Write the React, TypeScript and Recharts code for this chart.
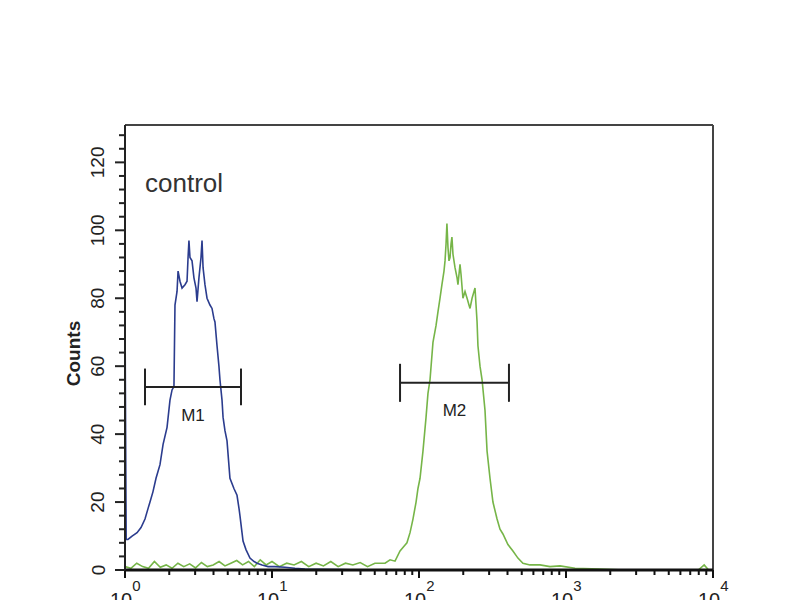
import React from 'react';
import { ComposedChart, Line, XAxis, YAxis, ReferenceLine, Scatter } from 'recharts';

// x values are log10 of fluorescence intensity (decades, 10^0 .. 10^4)
const blueX = [0, 0.008, 0.02, 0.048, 0.082, 0.109, 0.136, 0.156, 0.17, 0.19, 0.211, 0.238, 0.259, 0.286, 0.306, 0.32, 0.333, 0.34, 0.354, 0.361, 0.374, 0.388, 0.408, 0.422, 0.429, 0.435, 0.442, 0.456, 0.469, 0.483, 0.49, 0.503, 0.517, 0.524, 0.531, 0.544, 0.558, 0.578, 0.592, 0.605, 0.612, 0.626, 0.639, 0.646, 0.66, 0.667, 0.68, 0.694, 0.714, 0.741, 0.762, 0.776, 0.782, 0.796, 0.803, 0.823, 0.85, 0.878, 0.898, 0.932, 0.973, 1.02, 1.088, 1.156, 1.224, 1.327, 1.463, 1.6, 2.5, 4.0];
const blueCounts = [76, 9, 9, 10, 11, 12.5, 15, 18, 20, 23, 27, 31, 37, 42, 50, 53, 54, 78, 82, 88, 85, 83, 84, 85, 92, 97, 92, 91, 86, 83, 79, 86, 92, 97, 89, 84, 80, 78, 77, 74, 73, 66, 60, 56, 50, 45, 41, 38, 27, 24, 22, 18, 16, 11, 8.5, 6, 3.5, 2.5, 2, 1.5, 1, 1, 0.8, 0.5, 0.3, 0.2, 0.1, 0, 0, 0];

const greenX = [0, 0.04, 0.08, 0.12, 0.16, 0.2, 0.24, 0.28, 0.32, 0.36, 0.4, 0.44, 0.48, 0.52, 0.56, 0.6, 0.64, 0.68, 0.72, 0.76, 0.8, 0.84, 0.88, 0.92, 0.96, 1.0, 1.05, 1.1, 1.15, 1.2, 1.25, 1.3, 1.35, 1.4, 1.45, 1.5, 1.55, 1.6, 1.65, 1.7,
  1.769, 1.803, 1.837, 1.871, 1.898, 1.918, 1.939, 1.959, 1.98, 1.993, 2.007, 2.027, 2.048, 2.061, 2.075, 2.095, 2.116, 2.129, 2.143, 2.156, 2.17, 2.177, 2.184, 2.19, 2.197, 2.204, 2.211, 2.218, 2.224, 2.231, 2.245, 2.259, 2.265, 2.279, 2.286, 2.299, 2.313, 2.327, 2.34, 2.347, 2.361, 2.381, 2.388, 2.395, 2.401, 2.415, 2.429, 2.449, 2.463, 2.483, 2.503, 2.531, 2.551, 2.571, 2.605, 2.639, 2.673, 2.707, 2.755, 2.823, 2.891, 2.959, 3.061, 3.231, 3.4, 3.9, 3.94, 3.97, 4.0];
const greenCounts = [1, 0.5, 2, 1, 0.5, 2.5, 0.8, 1.5, 0.5, 2, 1, 1.8, 0.6, 2.2, 1, 1.5, 2.5, 1.2, 2, 2.8, 1.5, 2.5, 1, 3, 1.5, 2.5, 1, 2, 1.5, 2.5, 1, 2, 1.2, 2.5, 1, 2, 1.5, 2.2, 1, 2,
  2, 3, 2.6, 5.6, 7, 8, 11, 15, 20, 24, 27, 35, 45, 52, 56, 67, 72, 76, 80, 84, 88, 91, 96, 102, 95, 91, 92, 96, 98, 93, 89, 86, 84, 90, 87, 80, 82, 80, 78, 77, 80, 83, 78, 73, 66, 60, 56, 47, 35, 27, 20, 15, 12, 10.6, 7.5, 5.6, 3.5, 2, 1.5, 1.5, 1, 1.2, 0.5, 0.3, 0, 0, 1.5, 0, 0];

// gates (markers)
const gateNames = ['M1', 'M2'];
const gateLo = [0.136, 1.871];
const gateHi = [0.789, 2.612];
const gateLevel = [53.9, 55.1];
const gateHalfBar = [5.4, 5.6];
const gateLabelLevel = [45.6, 47.1];

const annotationText = 'control';
const annotationX = 0.136;
const annotationY = 111.3;

const decadeTicks = [0, 1, 2, 3, 4];
const yTicks = Array.from({ length: 33 }, (_, i) => i * 4);
const xTicks: number[] = [];
for (let d = 0; d < 4; d++) {
  for (let m = 1; m <= 9; m++) xTicks.push(d + Math.log10(m));
}
xTicks.push(4);

const blueData = blueX.map((x, i) => ({ x, y: blueCounts[i] }));
const greenData = greenX.map((x, i) => ({ x, y: greenCounts[i] }));
const gateLabelData = gateNames.map((name, i) => ({ x: (gateLo[i] + gateHi[i]) / 2, y: gateLabelLevel[i], name }));
const annotationData = [{ x: annotationX, y: annotationY, name: annotationText }];

const FONT = '"Liberation Sans", Arial, sans-serif';

const YTick = (props: any) => {
  const { x, y, payload } = props;
  const v = payload.value;
  const major = Math.round(v) % 20 === 0;
  const lx = x - 27;
  return (
    <g>
      <line x1={x - (major ? 10 : 6)} x2={x} y1={y} y2={y} stroke="#222" strokeWidth={2} />
      {major && (
        <text x={lx} y={y} transform={`rotate(-90, ${lx}, ${y})`} textAnchor="middle" dominantBaseline="central" fontSize={19} fontFamily={FONT} fill="#222">
          {v}
        </text>
      )}
    </g>
  );
};

const XTick = (props: any) => {
  const { x, y, payload } = props;
  const v = payload.value;
  const major = Math.abs(v - Math.round(v)) < 1e-9;
  return (
    <g>
      <line x1={x} x2={x} y1={y} y2={y + (major ? 8 : 5)} stroke="#111" strokeWidth={2} />
      {major && (
        <text x={x - 15} y={y + 37} fontSize={20} fontFamily={FONT} fill="#222">
          <tspan>10</tspan>
          <tspan dy={-16} fontSize={15}>{Math.round(v)}</tspan>
        </text>
      )}
    </g>
  );
};

const CountsLabel = (props: any) => {
  const vb = props.viewBox || {};
  const cx = vb.x + 8;
  const cy = vb.y + vb.height / 2 + 6;
  return (
    <text x={cx} y={cy} transform={`rotate(-90, ${cx}, ${cy})`} textAnchor="middle" dominantBaseline="central" fontSize={19} fontWeight="bold" fontFamily={FONT} fill="#222">
      Counts
    </text>
  );
};

export default function App() {
  return (
    <div style={{ position: 'absolute', left: 0, top: 0, width: 800, height: 600, background: '#fff' }}>
      <ComposedChart width={800} height={600} margin={{ top: 125, right: 87, bottom: 0, left: 65 }}>
        <XAxis
          type="number"
          dataKey="x"
          domain={[0, 4]}
          ticks={xTicks}
          interval={0}
          allowDataOverflow
          height={30}
          tickSize={0}
          tickMargin={0}
          tickLine={false}
          axisLine={{ stroke: '#111', strokeWidth: 3 }}
          tick={<XTick />}
        />
        <YAxis
          type="number"
          dataKey="y"
          domain={[0, 131]}
          ticks={yTicks}
          interval={0}
          allowDataOverflow
          width={60}
          tickSize={0}
          tickMargin={0}
          tickLine={false}
          axisLine={{ stroke: '#222', strokeWidth: 2 }}
          tick={<YTick />}
          label={{ value: 'Counts', content: <CountsLabel /> }}
        />
        <ReferenceLine y={131} stroke="#444" strokeWidth={2} />
        <ReferenceLine x={4} stroke="#444" strokeWidth={2} />
        <Line data={greenData} dataKey="y" type="linear" stroke="#76b548" strokeWidth={1.6} dot={false} isAnimationActive={false} />
        <Line data={blueData} dataKey="y" type="linear" stroke="#2b3c8e" strokeWidth={1.6} dot={false} isAnimationActive={false} />
        {gateNames.map((n, i) => (
          <ReferenceLine key={n + 'h'} segment={[{ x: gateLo[i], y: gateLevel[i] }, { x: gateHi[i], y: gateLevel[i] }]} stroke="#222" strokeWidth={2} />
        ))}
        {gateNames.map((n, i) => (
          <ReferenceLine key={n + 'l'} segment={[{ x: gateLo[i], y: gateLevel[i] - gateHalfBar[i] }, { x: gateLo[i], y: gateLevel[i] + gateHalfBar[i] }]} stroke="#222" strokeWidth={2} />
        ))}
        {gateNames.map((n, i) => (
          <ReferenceLine key={n + 'r'} segment={[{ x: gateHi[i], y: gateLevel[i] - gateHalfBar[i] }, { x: gateHi[i], y: gateLevel[i] + gateHalfBar[i] }]} stroke="#222" strokeWidth={2} />
        ))}
        <Scatter
          data={gateLabelData}
          isAnimationActive={false}
          shape={(p: any) => (
            <text x={p.cx} y={p.cy} textAnchor="middle" dominantBaseline="central" fontSize={17} fontFamily={FONT} fill="#222">
              {p.payload.name}
            </text>
          )}
        />
        <Scatter
          data={annotationData}
          isAnimationActive={false}
          shape={(p: any) => (
            <text x={p.cx} y={p.cy} textAnchor="start" fontSize={26} fontFamily={FONT} fill="#333">
              {p.payload.name}
            </text>
          )}
        />
      </ComposedChart>
    </div>
  );
}
